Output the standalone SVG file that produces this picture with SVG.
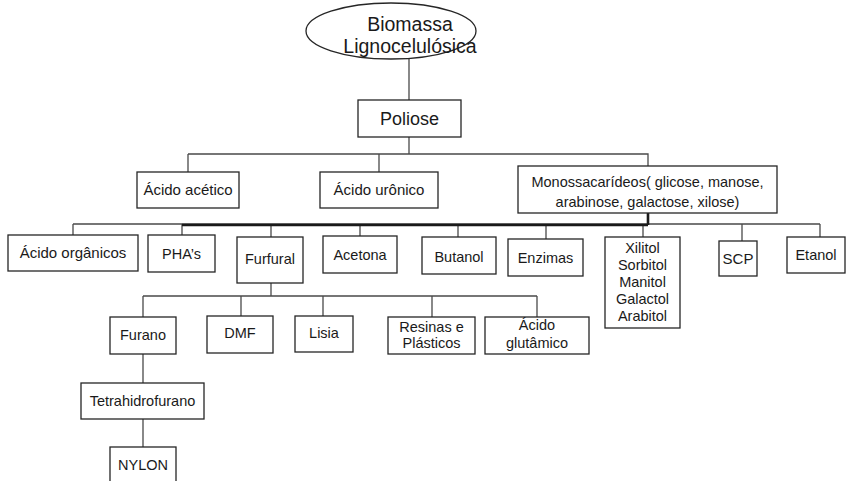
<svg xmlns="http://www.w3.org/2000/svg" width="849" height="481" viewBox="0 0 849 481">
<style>
.b{fill:#fff;stroke:#262626;stroke-width:1.3}
.c{fill:none;stroke:#4a4a4a;stroke-width:1.3}
.k{fill:none;stroke:#1a1a1a;stroke-width:2.6}
text{font-family:"Liberation Sans",Arial,sans-serif;font-size:14.5px;fill:#1a1a1a;text-anchor:middle}
</style>
<rect width="849" height="481" fill="#fff"/>
<g id="connectors">
<path class="c" d="M409 59V100M409 137V154M188 154H648V166M188 154V172M379 154V172"/>
<path class="c" d="M73 224H820M73 224V235M182 224V235M271 224V237M360 224V236M458 224V237M546 224V239M643 224V237M742 224V241M820 224V237"/>
<path class="k" d="M182 225H648M648 213V225"/>
<path class="c" d="M271 283V296M143 296H537M143 296V317M241 296V316M323 296V316M432 296V317M537 296V317"/>
<path class="c" d="M143 354V383M143 419V447"/>
</g>
<g id="biomassa"><ellipse class="b" cx="391" cy="31" rx="85" ry="28"/><text x="410" y="31" style="font-size:19.5px">Biomassa</text><text x="410" y="53" style="font-size:19.5px">Lignocelulósica</text></g>
<g id="poliose"><rect class="b" x="358" y="100" width="103" height="37"/><text x="409.5" y="124.5" style="font-size:18px">Poliose</text></g>
<g id="acido-acetico"><rect class="b" x="137" y="172" width="102" height="36"/><text x="188" y="195" style="font-size:15px">Ácido acético</text></g>
<g id="acido-uronico"><rect class="b" x="320" y="172" width="118" height="36"/><text x="379" y="195" style="font-size:15px">Ácido urônico</text></g>
<g id="monossacarideos"><rect class="b" x="518" y="166" width="259" height="47"/><text x="647.5" y="187">Monossacarídeos( glicose, manose,</text><text x="647.5" y="207">arabinose, galactose, xilose)</text></g>
<g id="acido-organicos"><rect class="b" x="8" y="235" width="130" height="36"/><text x="73" y="258" style="font-size:15px">Ácido orgânicos</text></g>
<g id="phas"><rect class="b" x="148" y="235" width="67" height="37"/><text x="181.5" y="259">PHA’s</text></g>
<g id="furfural"><rect class="b" x="237" y="237" width="66" height="46"/><text x="270" y="264">Furfural</text></g>
<g id="acetona"><rect class="b" x="323" y="236" width="74" height="37"/><text x="360" y="260">Acetona</text></g>
<g id="butanol"><rect class="b" x="422" y="237" width="74" height="37"/><text x="459" y="261.5">Butanol</text></g>
<g id="enzimas"><rect class="b" x="508" y="239" width="75" height="37"/><text x="545.5" y="263">Enzimas</text></g>
<g id="polióis"><rect class="b" x="605" y="237" width="75" height="91"/><text x="642.5" y="253">Xilitol</text><text x="642.5" y="270">Sorbitol</text><text x="642.5" y="287">Manitol</text><text x="642.5" y="304">Galactol</text><text x="642.5" y="321">Arabitol</text></g>
<g id="scp"><rect class="b" x="719" y="241" width="38" height="35"/><text x="738" y="264" style="font-size:15px">SCP</text></g>
<g id="etanol"><rect class="b" x="787" y="237" width="58" height="36"/><text x="816" y="260">Etanol</text></g>
<g id="furano"><rect class="b" x="110" y="317" width="66" height="37"/><text x="143" y="340">Furano</text></g>
<g id="dmf"><rect class="b" x="207" y="316" width="66" height="37"/><text x="240" y="338">DMF</text></g>
<g id="lisia"><rect class="b" x="295" y="316" width="58" height="36"/><text x="324" y="338">Lisia</text></g>
<g id="resinas"><rect class="b" x="388" y="317" width="87" height="37"/><text x="431.5" y="332">Resinas e</text><text x="431.5" y="348">Plásticos</text></g>
<g id="acido-glutamico"><rect class="b" x="485" y="317" width="104" height="37"/><text x="537" y="330">Ácido</text><text x="537" y="348">glutâmico</text></g>
<g id="tetrahidrofurano"><rect class="b" x="81" y="383" width="123" height="36"/><text x="142.5" y="406">Tetrahidrofurano</text></g>
<g id="nylon"><rect class="b" x="110" y="447" width="66" height="40"/><text x="143" y="470">NYLON</text></g>
</svg>
